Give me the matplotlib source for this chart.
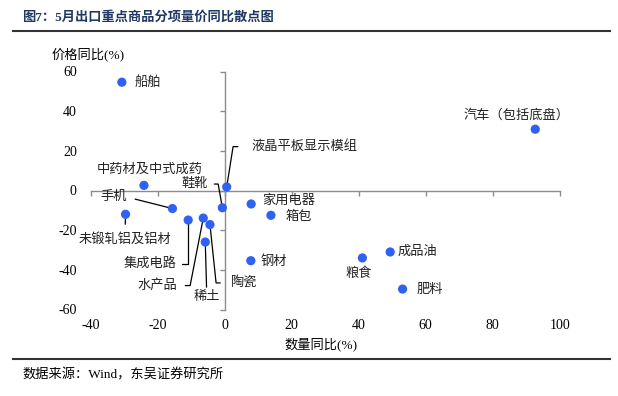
import matplotlib
matplotlib.use('Agg')
import matplotlib.pyplot as plt
from matplotlib.lines import Line2D

plt.rcParams['font.family'] = ['Liberation Serif', 'Noto Sans CJK SC']
plt.rcParams['axes.unicode_minus'] = False

# 数量同比(%) / 价格同比(%)
names = ['船舶', '中药材及中式成药', '液晶平板显示模组', '鞋靴', '手机', '未锻轧铝及铝材',
         '集成电路', '水产品', '陶瓷', '稀土', '家用电器', '箱包', '钢材', '粮食',
         '成品油', '肥料', '汽车（包括底盘）']
qty = [-30.7, -24.1, 0.6, -0.7, -15.6, -29.6, -10.9, -6.4, -4.4, -5.8,
       7.9, 13.8, 7.8, 41.1, 49.4, 53.1, 92.7]
price = [54.6, 2.6, 1.8, -8.7, -9.1, -12.0, -14.9, -13.9, -17.2, -26.0,
         -6.8, -12.5, -35.4, -34.0, -31.0, -49.7, 30.9]
xticks = [-40, -20, 0, 20, 40, 60, 80, 100]
yticks = [-60, -40, -20, 0, 20, 40, 60]

# label layout: offset in pixels, ha, leader (relpos, shrinkA, connectionstyle)
layout = {
    '船舶': (13, 0, 'left', None),
    '中药材及中式成药': (5.5, 16, 'center', None),
    '液晶平板显示模组': (25, 40.3, 'left', ((0, 0.5), 8, 'angle,angleA=0,angleB=81,rad=0')),
    '鞋靴': (-14.3, 23.7, 'right', ((1, 0.5), 2.5, 'angle,angleA=0,angleB=100,rad=0')),
    '手机': (-45.5, 11.5, 'right', ((1, 0.5), 4, 'arc3,rad=0')),
    '未锻轧铝及铝材': (-0.5, -24.7, 'center', ((0.5, 1), 4, 'arc3,rad=0')),
    '集成电路': (-11.3, -43.5, 'right', ((1, 0.5), 2, 'angle,angleA=0,angleB=90,rad=0')),
    '水产品': (-26.3, -67.5, 'right', ((1, 0.5), 4, 'angle,angleA=0,angleB=79,rad=0')),
    '陶瓷': (20, -58.3, 'left', ((0, 0.5), 5, 'angle,angleA=0,angleB=96,rad=0')),
    '稀土': (1.4, -55.3, 'center', ((0.5, 1), 1, 'arc3,rad=0')),
    '家用电器': (11, 3.3, 'left', None),
    '箱包': (14.7, -1.4, 'left', None),
    '钢材': (9.3, -1, 'left', None),
    '粮食': (-4, -15.3, 'center', None),
    '成品油': (7, 0.3, 'left', None),
    '肥料': (14, -0.3, 'left', None),
    '汽车（包括底盘）': (-18.3, 14.3, 'center', None),
}

fig = plt.figure(figsize=(6.18, 3.96), dpi=100)
ax = fig.add_axes([90.7 / 618, 1 - 309.5 / 396, 469 / 618, 238 / 396])
ax.set_xlim(-40, 100)
ax.set_ylim(-60, 60)
ax.set_xticks(xticks)
ax.set_yticks(yticks)

axis_col = '#8c8c8c'
for s in ['top', 'right']:
    ax.spines[s].set_visible(False)
ax.spines['left'].set_position(('data', 0))
ax.spines['bottom'].set_position(('data', 0))
for s in ['left', 'bottom']:
    ax.spines[s].set_color(axis_col)
    ax.spines[s].set_linewidth(1.0)
ax.tick_params(axis='both', direction='out', length=3.5, width=1.0, color=axis_col,
               labelleft=False, labelbottom=False)

# tick labels sit at the frame edges, not on the zero spines
secx = ax.secondary_xaxis('bottom')
secx.set_xticks(xticks)
secx.tick_params(length=0, pad=7, labelsize=10)
secx.spines['bottom'].set_visible(False)
secy = ax.secondary_yaxis('left')
secy.set_yticks(yticks)
secy.tick_params(length=0, pad=10, labelsize=10)
secy.spines['left'].set_visible(False)

ax.scatter(qty, price, s=44, color='#2F62F2', edgecolors='none', zorder=5, clip_on=False)

for n, x, y in zip(names, qty, price):
    dx, dy, ha, lead = layout[n]
    kw = {}
    if lead is not None:
        relpos, shA, cs = lead
        kw['arrowprops'] = dict(arrowstyle='-', color='black', lw=0.9, shrinkA=shA,
                                shrinkB=0, relpos=relpos, connectionstyle=cs)
    ax.annotate(n, xy=(x, y), xytext=(dx, dy), textcoords='offset pixels',
                ha=ha, va='center', fontsize=9.5, color='#222222', zorder=4, **kw)

fig.text(88 / 618, 1 - 54 / 396, '价格同比(%)', ha='center', va='center', fontsize=9.5)
fig.text(321 / 618, 1 - 344 / 396, '数量同比(%)', ha='center', va='center', fontsize=9.5)

fig.text(22 / 618, 1 - 17 / 396, '图7：5月出口重点商品分项量价同比散点图', ha='left', va='center',
         fontsize=9.5, fontweight='bold', color='#1F3864')
fig.add_artist(Line2D([13 / 618, 610 / 618], [1 - 31 / 396] * 2, color='#333333', lw=1.5))
fig.add_artist(Line2D([13 / 618, 610 / 618], [1 - 359 / 396] * 2, color='#333333', lw=1.5))
fig.text(22 / 618, 1 - 375 / 396, '数据来源：Wind，东吴证券研究所', ha='left', va='center',
         fontsize=9.5)

fig.savefig('out.png', dpi=100)
